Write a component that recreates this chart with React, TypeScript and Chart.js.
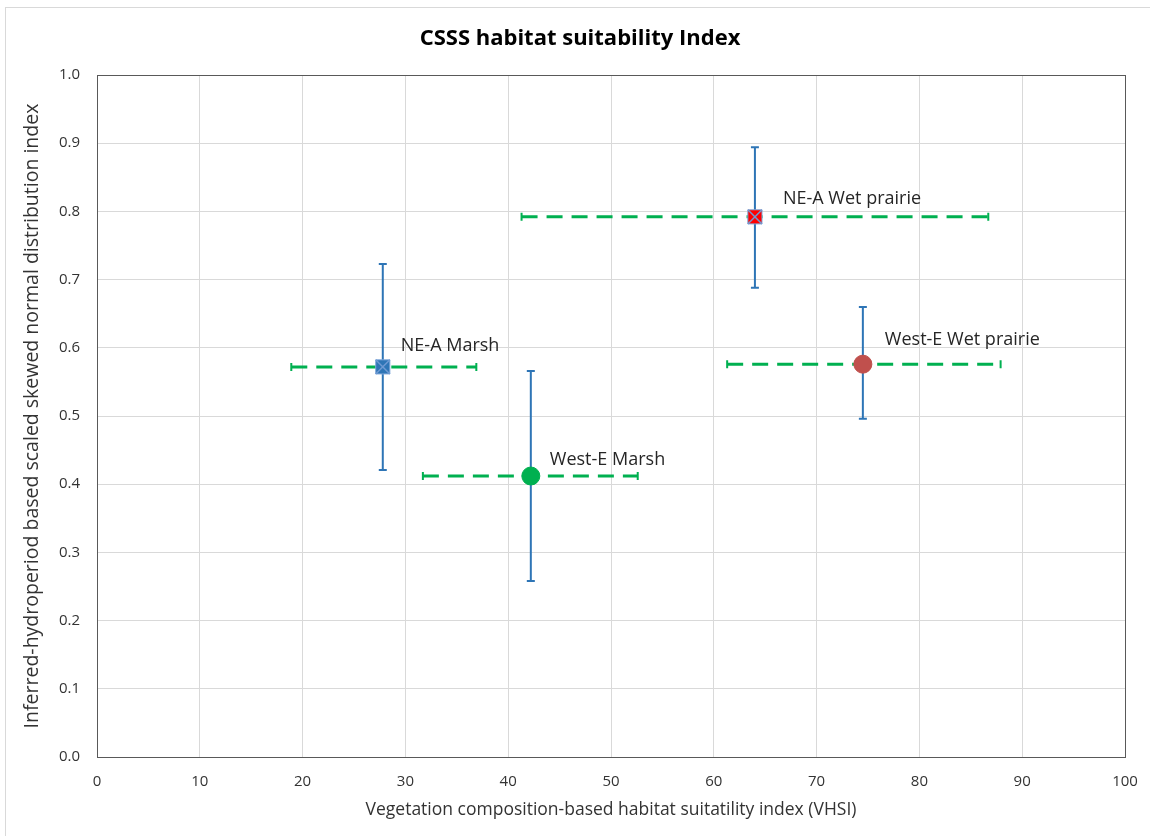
import React, { useEffect, useRef } from "react";
import { Chart, registerables } from "chart.js";

Chart.register(...registerables);

const titleText = "CSSS habitat suitability Index";
const xTitle = "Vegetation composition-based habitat suitatility index (VHSI)";
const yTitle = "Inferred-hydroperiod based scaled skewed normal distribution index";

const seriesNames = ["NE-A Marsh", "NE-A Wet prairie", "West-E Marsh", "West-E Wet prairie"];
const vhsi = [27.8, 64.0, 42.2, 74.5];
const vhsiLow = [18.9, 41.3, 31.7, 61.3];
const vhsiHigh = [36.9, 86.7, 52.6, 87.9];
const hydro = [0.572, 0.792, 0.412, 0.576];
const hydroLow = [0.421, 0.688, 0.258, 0.496];
const hydroHigh = [0.723, 0.894, 0.566, 0.660];

const xTicksMin = 0;
const xTicksMax = 100;
const xStep = 10;
const yTicksMin = 0;
const yTicksMax = 1;
const yStep = 0.1;

// styles (not data)
const markerStyle = ["rect", "rect", "circle", "circle"];
const markerColor = ["#2E75B6", "#FF0000", "#00B050", "#C0504D"];
const markerRadius = [10, 10, 9, 9];
const crossOverlay = [true, true, false, false];
const labelOffset = [
  [18, -21],
  [28, -18],
  [19, -16],
  [22, -24],
];

const FONT = "'Open Sans', 'DejaVu Sans', sans-serif";

const decorPlugin = {
  id: "decor",
  beforeDraw(chart: any) {
    const ctx = chart.ctx;
    ctx.save();
    ctx.fillStyle = "#ffffff";
    ctx.fillRect(0, 0, chart.width, chart.height);
    ctx.strokeStyle = "#d9d9d9";
    ctx.lineWidth = 1;
    ctx.strokeRect(5.5, 7.5, chart.width + 20, chart.height + 20);
    ctx.fillStyle = "#000000";
    ctx.font = `bold 22px ${FONT}`;
    ctx.textAlign = "center";
    ctx.textBaseline = "middle";
    ctx.fillText(titleText, 580, 39);
    ctx.restore();
  },
  beforeDatasetsDraw(chart: any) {
    const ctx = chart.ctx;
    const xs = chart.scales.x;
    const ys = chart.scales.y;
    const a = chart.chartArea;
    ctx.save();
    ctx.strokeStyle = "#595959";
    ctx.lineWidth = 1;
    ctx.strokeRect(Math.round(a.left) + 0.5, Math.round(a.top) + 0.5, Math.round(a.right - a.left), Math.round(a.bottom - a.top));
    for (let i = 0; i < seriesNames.length; i++) {
      const cx = xs.getPixelForValue(vhsi[i]);
      const cy = ys.getPixelForValue(hydro[i]);
      // vertical (blue)
      const yt = ys.getPixelForValue(hydroHigh[i]);
      const yb = ys.getPixelForValue(hydroLow[i]);
      ctx.strokeStyle = "#2E75B6";
      ctx.lineWidth = 2;
      ctx.setLineDash([]);
      ctx.beginPath();
      ctx.moveTo(cx, yt);
      ctx.lineTo(cx, yb);
      ctx.moveTo(cx - 4, yt);
      ctx.lineTo(cx + 4, yt);
      ctx.moveTo(cx - 4, yb);
      ctx.lineTo(cx + 4, yb);
      ctx.stroke();
      // horizontal (green dashed)
      const xl = xs.getPixelForValue(vhsiLow[i]);
      const xr = xs.getPixelForValue(vhsiHigh[i]);
      ctx.strokeStyle = "#00B050";
      ctx.lineWidth = 3;
      ctx.setLineDash([16, 9]);
      ctx.lineDashOffset = 0;
      ctx.beginPath();
      ctx.moveTo(xl, cy);
      ctx.lineTo(xr, cy);
      ctx.stroke();
      ctx.setLineDash([]);
      ctx.lineWidth = 2;
      ctx.beginPath();
      ctx.moveTo(xl, cy - 4);
      ctx.lineTo(xl, cy + 4);
      ctx.moveTo(xr, cy - 4);
      ctx.lineTo(xr, cy + 4);
      ctx.stroke();
    }
    ctx.restore();
  },
  afterDatasetsDraw(chart: any) {
    const ctx = chart.ctx;
    const xs = chart.scales.x;
    const ys = chart.scales.y;
    ctx.save();
    ctx.fillStyle = "#262626";
    ctx.font = `18px ${FONT}`;
    ctx.textAlign = "left";
    ctx.textBaseline = "middle";
    for (let i = 0; i < seriesNames.length; i++) {
      const cx = xs.getPixelForValue(vhsi[i]);
      const cy = ys.getPixelForValue(hydro[i]);
      ctx.fillText(seriesNames[i], cx + labelOffset[i][0], cy + labelOffset[i][1]);
    }
    ctx.restore();
  },
};

export default function App() {
  const ref = useRef<HTMLCanvasElement>(null);
  useEffect(() => {
    if (!ref.current) return;
    const datasets: any[] = seriesNames.map((name, i) => ({
      label: name,
      data: [{ x: vhsi[i], y: hydro[i] }],
      pointStyle: markerStyle[i],
      pointRadius: markerRadius[i],
      backgroundColor: markerColor[i],
      borderColor: markerStyle[i] === "rect" ? "#7FA7D9" : markerColor[i],
      borderWidth: 1,
      order: 2,
    }));
    datasets.push({
      label: "cross",
      data: seriesNames
        .map((_, i) => (crossOverlay[i] ? { x: vhsi[i], y: hydro[i] } : null))
        .filter((p) => p !== null),
      pointStyle: "crossRot",
      pointRadius: 10,
      borderColor: "#6F9AD3",
      borderWidth: 1.5,
      backgroundColor: "transparent",
      order: 1,
    });
    const chart = new Chart(ref.current, {
      type: "scatter",
      data: { datasets },
      options: {
        animation: false,
        responsive: false,
        devicePixelRatio: 1,
        layout: { padding: { left: 5, right: 25, top: 75, bottom: 0 } },
        plugins: { legend: { display: false }, tooltip: { enabled: false }, title: { display: false } },
        scales: {
          x: {
            type: "linear",
            min: xTicksMin,
            max: xTicksMax,
            afterFit: (s: any) => {
              s.height = 79;
              s.paddingLeft = 0;
              s.paddingRight = 0;
            },
            ticks: { stepSize: xStep, padding: 16, color: "#333333", font: { family: FONT, size: 15 } },
            grid: { color: "#d9d9d9", drawTicks: false },
            border: { display: false },
            title: { display: true, text: xTitle, color: "#333333", padding: { top: 0, bottom: 15 }, font: { family: FONT, size: 17.5 } },
          },
          y: {
            type: "linear",
            min: yTicksMin,
            max: yTicksMax,
            afterFit: (s: any) => {
              s.width = 92;
              s.paddingTop = 0;
              s.paddingBottom = 0;
            },
            ticks: {
              stepSize: yStep,
              padding: 17,
              color: "#333333",
              font: { family: FONT, size: 15 },
              callback: (v: any) => Number(v).toFixed(1),
            },
            grid: { color: "#d9d9d9", drawTicks: false },
            border: { display: false },
            title: { display: true, text: yTitle, color: "#333333", padding: { top: 16, bottom: 0 }, font: { family: FONT, size: 19.5 } },
          },
        },
      },
      plugins: [decorPlugin],
    });
    return () => chart.destroy();
  }, []);
  return (
    <div style={{ position: "absolute", left: 0, top: 0, width: 1150, height: 836 }}>
      <canvas ref={ref} width={1150} height={836} style={{ width: 1150, height: 836 }} />
    </div>
  );
}
